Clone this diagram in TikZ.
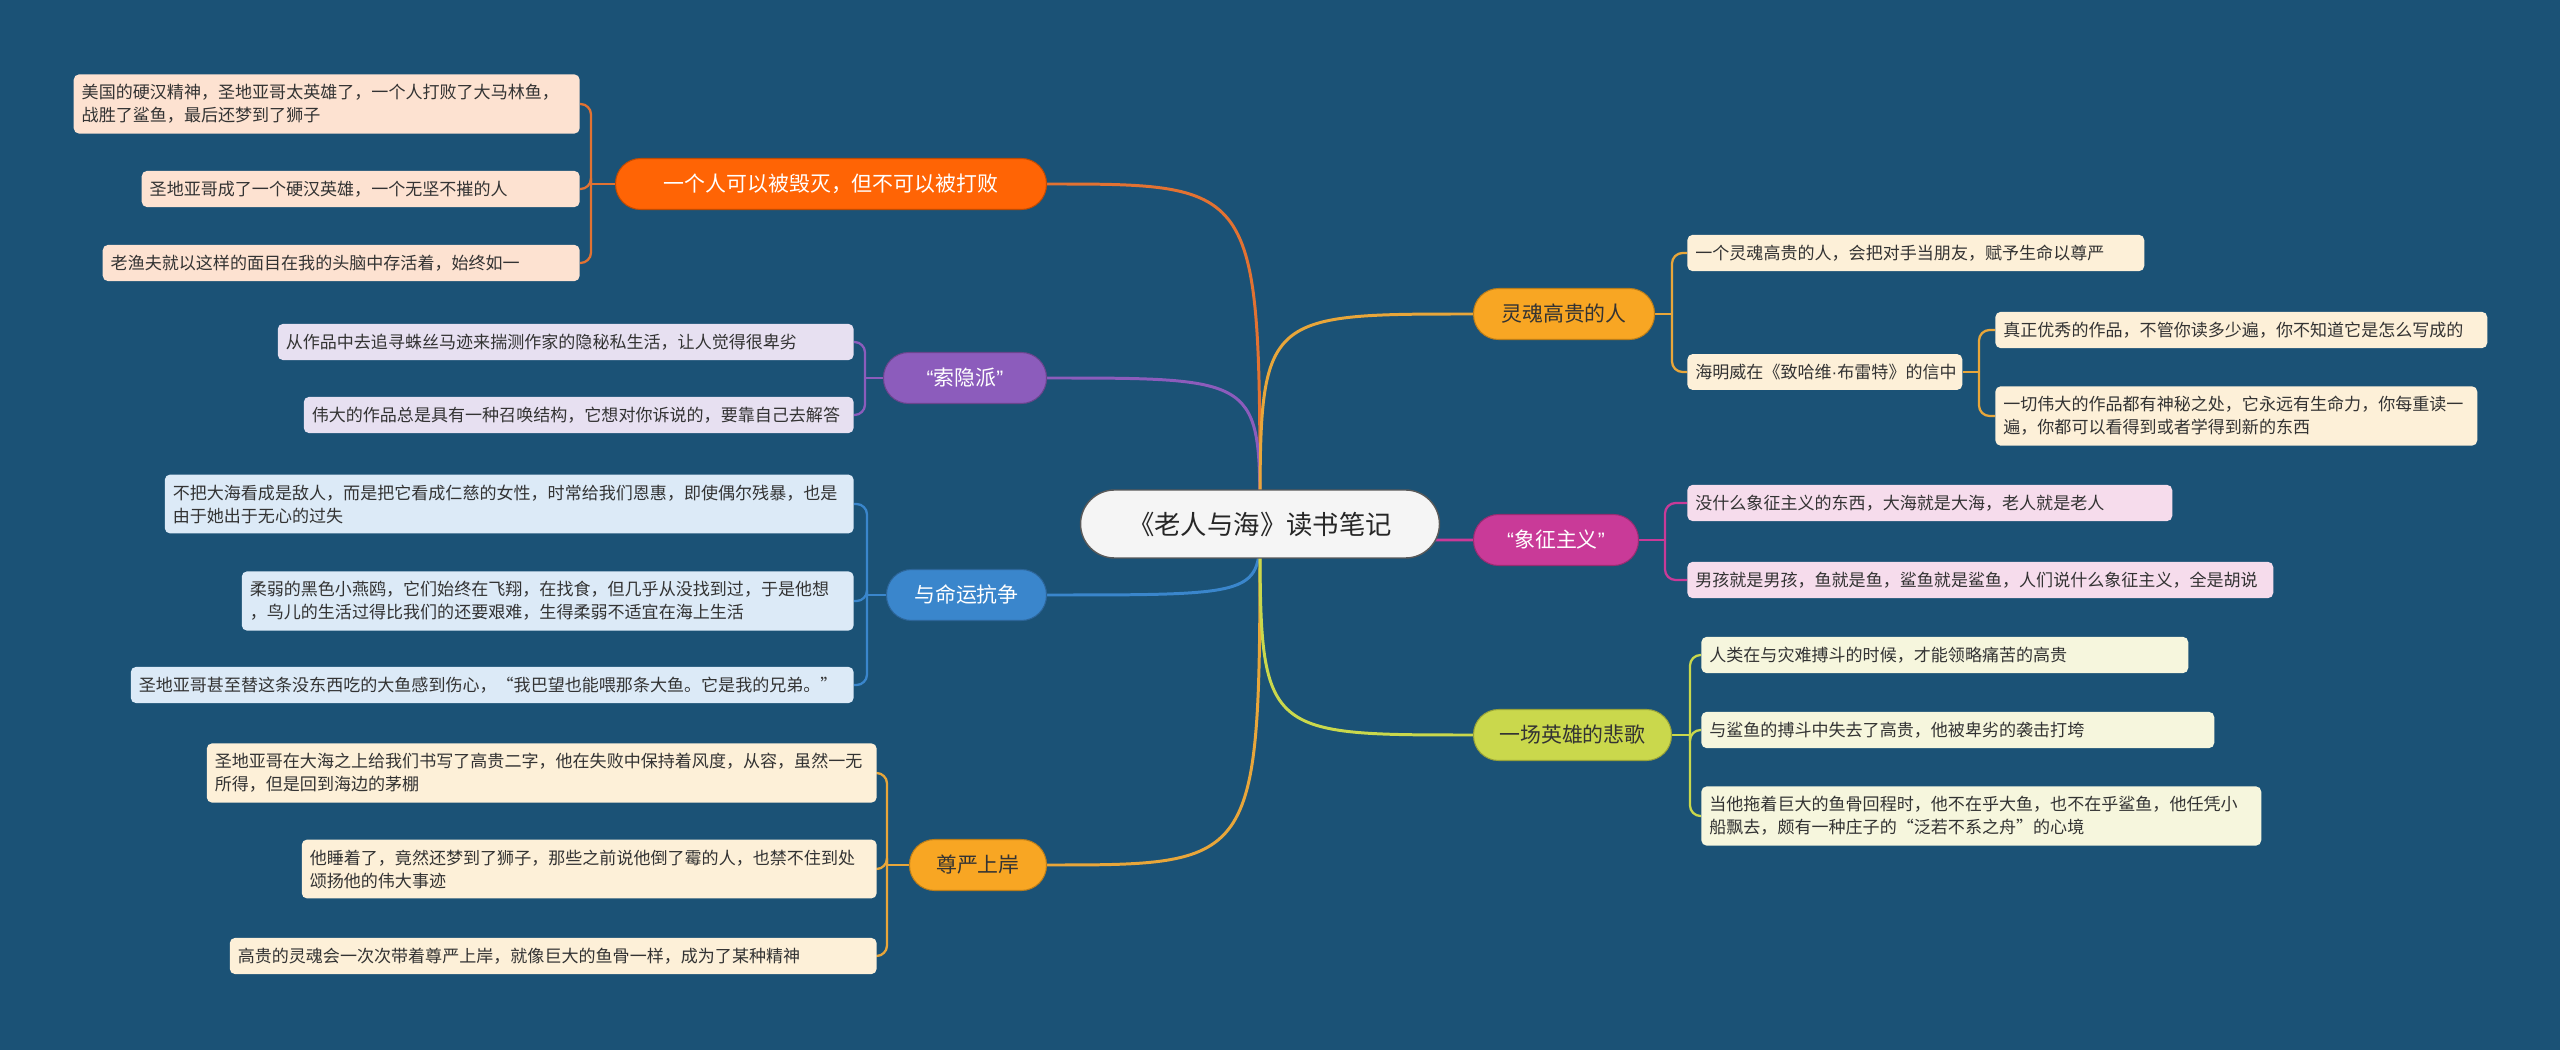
\documentclass[tikz,border=0pt]{standalone}
\usepackage{fontspec}
\setmainfont{Noto Sans CJK SC}
\newfontfamily\latinfont{Liberation Sans}
\usetikzlibrary{backgrounds}

\definecolor{sea}{HTML}{1B5276}
\definecolor{ink}{HTML}{333333}
% branch colours
\definecolor{heroc}{HTML}{FF6405}
\definecolor{herol}{HTML}{E27232}
\definecolor{suoc}{HTML}{8C5CBC}
\definecolor{fatec}{HTML}{3A86CC}
\definecolor{goldc}{HTML}{F8A623}
\definecolor{goldl}{HTML}{E8A63A}
\definecolor{symc}{HTML}{C93A98}
\definecolor{elegc}{HTML}{CAD84C}
% leaf fills
\definecolor{heroleaf}{HTML}{FDE2D1}
\definecolor{suoleaf}{HTML}{E7E0F1}
\definecolor{fateleaf}{HTML}{DCEAF7}
\definecolor{goldleaf}{HTML}{FDF0D8}
\definecolor{symleaf}{HTML}{F6DCEC}
\definecolor{elegleaf}{HTML}{F6F6DD}

\newcommand\openq{{\latinfont “}}
\newcommand\closeq{{\latinfont ”}}

\tikzset{
  leaf/.style={rounded corners=3pt, inner xsep=0.16cm, inner ysep=0.2cm,
    align=left, text=ink, font=\fontsize{9.7}{13.1}\selectfont},
  branch/.style={rounded corners=0.5cm, minimum height=1.02cm, inner sep=0pt,
    line width=0.6pt, font=\fontsize{11.9}{15}\selectfont},
  trunk/.style={line width=1.7pt},
  twig/.style={line width=1.3pt, rounded corners=6pt},
}

\begin{document}
\begin{tikzpicture}[x=0.02cm,y=-0.02cm]
\useasboundingbox (0,0) rectangle (2560,1050);

% centre
\node[fill=black!4, draw=black!65, line width=0.8pt, rounded corners=0.68cm,
  minimum width=7.18cm, minimum height=1.36cm, inner sep=0pt, text=black!85,
  font=\fontsize{15}{18}\selectfont] (root) at (1260,524) {《老人与海》读书笔记};

% left branches
\node[branch, fill=heroc, draw=heroc!75!black, text=white, minimum width=8.62cm, anchor=east] (hero) at (1047,184) {一个人可以被毁灭，但不可以被打败\hspace{0.6cm}};
\node[branch, fill=suoc, draw=suoc!75!black, text=white, minimum width=3.26cm, anchor=east] (suoyin) at (1047,378) {\openq 索隐派\closeq};
\node[branch, fill=fatec, draw=fatec!75!black, text=white, minimum width=3.2cm, anchor=east] (fate) at (1047,595) {与命运抗争};
\node[branch, fill=goldc, draw=goldc!75!black, text=ink, minimum width=2.74cm, anchor=east] (dignity) at (1047,865) {尊严上岸};

% right branches
\node[branch, fill=goldc, draw=goldc!75!black, text=ink, minimum width=3.62cm, anchor=west] (soul) at (1473,314) {灵魂高贵的人};
\node[branch, fill=symc, draw=symc!75!black, text=white, minimum width=3.3cm, anchor=west] (symbol) at (1473,540) {\openq 象征主义\closeq};
\node[branch, fill=elegc, draw=elegc!75!black, text=ink, minimum width=3.96cm, anchor=west] (elegy) at (1473,735) {一场英雄的悲歌};

% leaves, left side
\node[leaf, fill=heroleaf, text width=9.8cm, anchor=east] (hero1) at (580,104) {美国的硬汉精神，圣地亚哥太英雄了，一个人打败了大马林鱼，\\战胜了鲨鱼，最后还梦到了狮子};
\node[leaf, fill=heroleaf, text width=8.44cm, anchor=east] (hero2) at (580,189) {圣地亚哥成了一个硬汉英雄，一个无坚不摧的人};
\node[leaf, fill=heroleaf, text width=9.22cm, anchor=east] (hero3) at (580,263) {老渔夫就以这样的面目在我的头脑中存活着，始终如一};

\node[leaf, fill=suoleaf, text width=11.2cm, anchor=east] (suoyin1) at (854,342) {从作品中去追寻蛛丝马迹来揣测作家的隐秘私生活，让人觉得很卑劣};
\node[leaf, fill=suoleaf, text width=10.68cm, anchor=east] (suoyin2) at (854,415) {伟大的作品总是具有一种召唤结构，它想对你诉说的，要靠自己去解答};

\node[leaf, fill=fateleaf, text width=13.46cm, anchor=east] (fate1) at (854,504) {不把大海看成是敌人，而是把它看成仁慈的女性，时常给我们恩惠，即使偶尔残暴，也是\\由于她出于无心的过失};
\node[leaf, fill=fateleaf, text width=11.92cm, anchor=east] (fate2) at (854,601) {柔弱的黑色小燕鸥，它们始终在飞翔，在找食，但几乎从没找到过，于是他想\\，鸟儿的生活过得比我们的还要艰难，生得柔弱不适宜在海上生活};
\node[leaf, fill=fateleaf, text width=14.14cm, anchor=east] (fate3) at (854,685) {圣地亚哥甚至替这条没东西吃的大鱼感到伤心，“我巴望也能喂那条大鱼。它是我的兄弟。”};

\node[leaf, fill=goldleaf, text width=13.08cm, anchor=east] (dignity1) at (877,773) {圣地亚哥在大海之上给我们书写了高贵二字，他在失败中保持着风度，从容，虽然一无\\所得，但是回到海边的茅棚};
\node[leaf, fill=goldleaf, text width=11.18cm, anchor=east] (dignity2) at (877,869) {他睡着了，竟然还梦到了狮子，那些之前说他倒了霉的人，也禁不住到处\\颂扬他的伟大事迹};
\node[leaf, fill=goldleaf, text width=12.62cm, anchor=east] (dignity3) at (877,956) {高贵的灵魂会一次次带着尊严上岸，就像巨大的鱼骨一样，成为了某种精神};

% leaves, right side
\node[leaf, fill=goldleaf, text width=8.82cm, anchor=west] (soul1) at (1687,253) {一个灵魂高贵的人，会把对手当朋友，赋予生命以尊严};
\node[leaf, fill=goldleaf, text width=5.18cm, anchor=west] (soul2) at (1687,372) {海明威在《致哈维{\latinfont ·}布雷特》的信中};
\node[leaf, fill=goldleaf, text width=9.52cm, anchor=west] (soul21) at (1995,330) {真正优秀的作品，不管你读多少遍，你不知道它是怎么写成的};
\node[leaf, fill=goldleaf, text width=9.32cm, anchor=west] (soul22) at (1995,416) {一切伟大的作品都有神秘之处，它永远有生命力，你每重读一\\遍，你都可以看得到或者学得到新的东西};

\node[leaf, fill=symleaf, text width=9.38cm, anchor=west] (symbol1) at (1687,503) {没什么象征主义的东西，大海就是大海，老人就是老人};
\node[leaf, fill=symleaf, text width=11.4cm, anchor=west] (symbol2) at (1687,580) {男孩就是男孩，鱼就是鱼，鲨鱼就是鲨鱼，人们说什么象征主义，全是胡说};

\node[leaf, fill=elegleaf, text width=9.42cm, anchor=west] (elegy1) at (1701,655) {人类在与灾难搏斗的时候，才能领略痛苦的高贵};
\node[leaf, fill=elegleaf, text width=9.94cm, anchor=west] (elegy2) at (1701,730) {与鲨鱼的搏斗中失去了高贵，他被卑劣的袭击打垮};
\node[leaf, fill=elegleaf, text width=10.88cm, anchor=west] (elegy3) at (1701,816) {当他拖着巨大的鱼骨回程时，他不在乎大鱼，也不在乎鲨鱼，他任凭小\\船飘去，颇有一种庄子的“泛若不系之舟”的心境};

% bracket joints
\coordinate (j1) at (591,184);
\coordinate (j2) at (865,378);
\coordinate (j3) at (867,595);
\coordinate (j4) at (887,865);
\coordinate (j5) at (1672,314);
\coordinate (j52) at (1979,372);
\coordinate (j6) at (1665,540);
\coordinate (j7) at (1690,735);

\begin{scope}[on background layer]
\fill[sea] (0,0) rectangle (2560,1050);
% trunks
\draw[trunk, herol] (root.center) .. controls (root.center |- hero.east) .. (hero.east);
\draw[trunk, suoc] (root.center) .. controls (root.center |- suoyin.east) .. (suoyin.east);
\draw[trunk, fatec] (root.center) .. controls (root.center |- fate.east) .. (fate.east);
\draw[trunk, goldl] (root.center) .. controls (root.center |- dignity.east) .. (dignity.east);
\draw[trunk, goldl] (root.center) .. controls (root.center |- soul.west) .. (soul.west);
\draw[trunk, symc] (root.center) .. controls (root.center |- symbol.west) .. (symbol.west);
\draw[trunk, elegc] (root.center) .. controls (root.center |- elegy.west) .. (elegy.west);
% twigs
\draw[twig, herol] (hero.west) -- (j1);
\foreach \n in {hero1,hero2,hero3} \draw[twig, herol] (j1) |- (\n.east);
\draw[twig, suoc] (suoyin.west) -- (j2);
\foreach \n in {suoyin1,suoyin2} \draw[twig, suoc] (j2) |- (\n.east);
\draw[twig, fatec] (fate.west) -- (j3);
\foreach \n in {fate1,fate2,fate3} \draw[twig, fatec] (j3) |- (\n.east);
\draw[twig, goldl] (dignity.west) -- (j4);
\foreach \n in {dignity1,dignity2,dignity3} \draw[twig, goldl] (j4) |- (\n.east);
\draw[twig, goldl] (soul.east) -- (j5);
\foreach \n in {soul1,soul2} \draw[twig, goldl] (j5) |- (\n.west);
\draw[twig, goldl] (soul2.east) -- (j52);
\foreach \n in {soul21,soul22} \draw[twig, goldl] (j52) |- (\n.west);
\draw[twig, symc] (symbol.east) -- (j6);
\foreach \n in {symbol1,symbol2} \draw[twig, symc] (j6) |- (\n.west);
\draw[twig, elegc] (elegy.east) -- (j7);
\foreach \n in {elegy1,elegy2,elegy3} \draw[twig, elegc] (j7) |- (\n.west);
\end{scope}
\end{tikzpicture}
\end{document}
